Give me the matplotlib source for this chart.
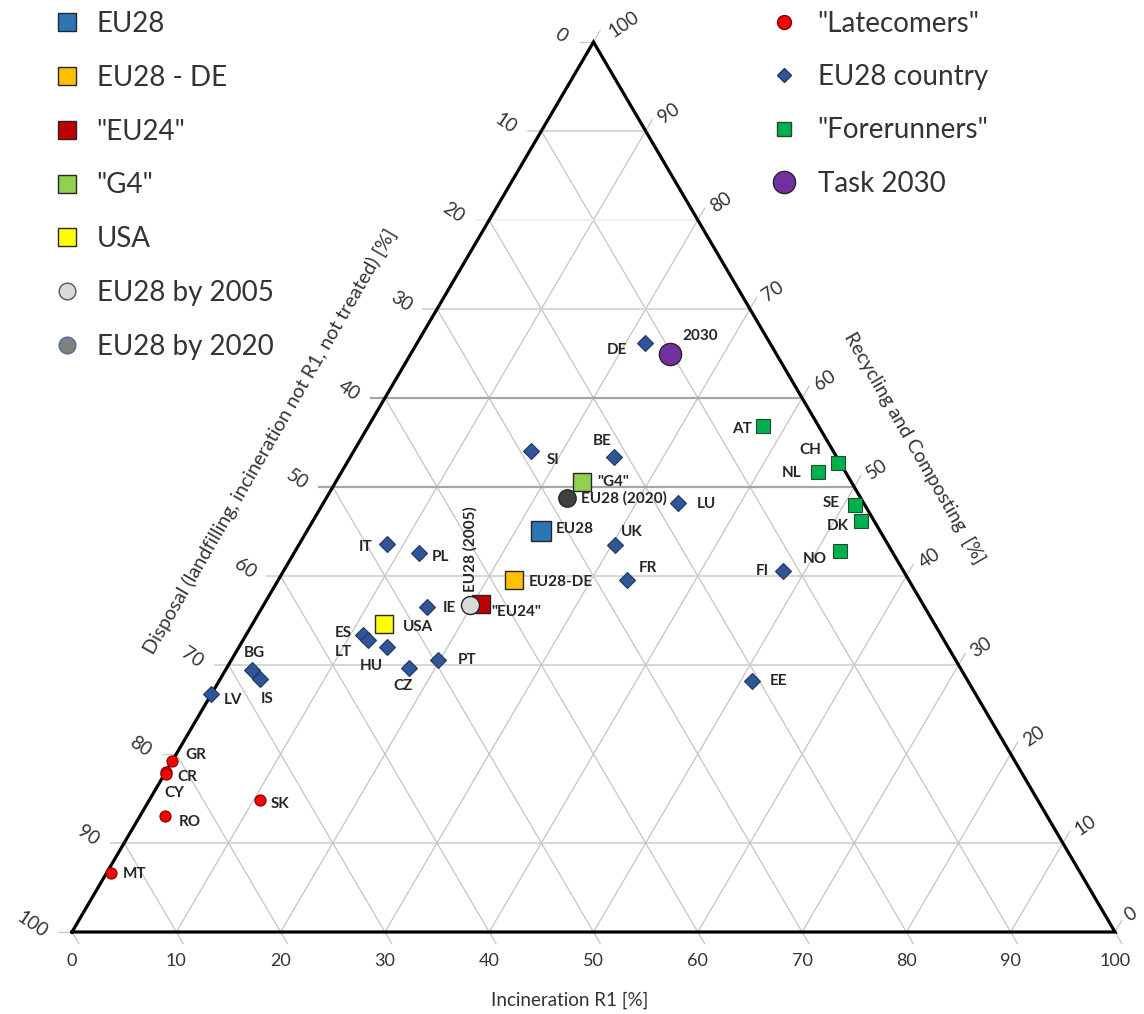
import numpy as np
import matplotlib
matplotlib.use('Agg')
import matplotlib.pyplot as plt
from matplotlib.lines import Line2D

plt.rcParams['font.family'] = ['Lato', 'DejaVu Sans']

# EU28 countries: incineration R1 [%] and recycling+composting [%]
countries = ['DE', 'SI', 'BE', 'LU', 'UK', 'FR', 'IE', 'IT', 'PL', 'ES', 'LT', 'HU',
             'CZ', 'PT', 'EE', 'FI', 'BG', 'IS', 'LV']
country_inc = [21.8, 17.0, 25.3, 34.0, 30.3, 33.4, 15.8, 8.4, 12.0, 11.2, 12.0, 14.2,
               17.5, 19.8, 51.1, 47.9, 2.6, 3.8, 0.0]
country_rec = [66.2, 54.0, 53.4, 48.2, 43.5, 39.6, 36.5, 43.6, 42.6, 33.4, 32.8, 32.0,
               29.7, 30.6, 28.2, 40.6, 29.4, 28.4, 26.7]

late = ['GR', 'CR', 'CY', 'RO', 'SK', 'MT']
late_inc = [0.0, 0.0, 0.2, 2.4, 10.6, 0.4]
late_rec = [19.2, 18.0, 17.7, 13.0, 14.8, 6.6]

fore = ['AT', 'CH', 'NL', 'SE', 'DK', 'NO']
fore_inc = [37.8, 47.1, 45.7, 51.1, 52.5, 52.2]
fore_rec = [56.9, 52.7, 51.7, 48.0, 46.2, 42.8]

agg = ['EU28', 'EU28-DE', '"EU24"', '"G4"', 'USA', 'EU28 (2005)', 'EU28 (2020)', '2030']
agg_inc = [22.4, 22.6, 20.8, 23.6, 12.6, 19.8, 23.1, 24.9]
agg_rec = [45.1, 39.6, 36.9, 50.6, 34.6, 36.7, 48.8, 64.9]

ticks = list(range(0, 101, 10))

H = np.sqrt(3) / 2


def tern(inc, rec):
    inc = np.asarray(inc, dtype=float)
    rec = np.asarray(rec, dtype=float)
    return inc + rec / 2, rec * H


fig = plt.figure(figsize=(11.44, 10.14), dpi=100)
ax = fig.add_axes([72 / 1144, 82 / 1014, 1043 / 1144, 890 / 1014])
ax.set_xlim(0, 100)
ax.set_ylim(0, 100 * H)
ax.axis('off')

# grid + small tick extensions
ext = 1.3
for v in ticks:
    # constant recycling -> horizontal, tick on the left
    x0, y0 = tern(0, v)
    x1, y1 = tern(100 - v, v)
    if 0 < v < 100 and v != 20:
        if v in (50, 60):
            c, lw = '#a6a6a6', 1.6
        elif v == 80:
            c, lw = '#ececec', 1.2
        else:
            c, lw = '#d6d6d6', 1.4
        ax.plot([x0 - ext, x1], [y0, y1], color=c, lw=lw, zorder=1, clip_on=False)
    else:
        ax.plot([x0 - ext, x0], [y0, y0], color='#c8c8c8', lw=1, zorder=1, clip_on=False)
    # constant incineration -> parallel to left edge, tick on the right
    x0, y0 = tern(v, 0)
    x1, y1 = tern(v, 100 - v)
    ax.plot([x0, x1 + 0.5 * ext], [y0, y1 + H * ext], color='#c4c4c4', lw=0.9,
            zorder=1, clip_on=False)
    # constant disposal -> parallel to right edge, tick at the bottom
    x0, y0 = tern(0, 100 - v)
    x1, y1 = tern(100 - v, 0)
    ax.plot([x0, x1 + 0.5 * ext], [y0, y1 - H * ext], color='#c4c4c4', lw=0.9,
            zorder=1, clip_on=False)

# triangle frame
tx, ty = tern([0, 100, 0, 0], [0, 0, 100, 0])
ax.plot(tx, ty, color='black', lw=2.3, zorder=3, clip_on=False, solid_joinstyle='miter')

# tick labels
narrow = ['Liberation Sans Narrow', 'Lato', 'DejaVu Sans']
for v in ticks:
    s = str(v)
    x, y = tern(v, 0)
    ax.annotate(s, (x, y), xytext=(0, -29), textcoords='offset pixels', ha='center',
                va='center', fontsize=13, family=narrow, color='#333333')
    x, y = tern(0, 100 - v)
    ax.annotate(s, (x, y), xytext=(-(29 + 3.5 * len(s)), 7), textcoords='offset pixels',
                ha='center', va='center', fontsize=13.5, rotation=-34, color='#333333')
    x, y = tern(100 - v, v)
    ax.annotate(s, (x, y), xytext=(9 + 7 * len(s), 18), textcoords='offset pixels',
                ha='center', va='center', fontsize=13.5, rotation=34, color='#333333')

fig.text(570 / 1144, 1 - 1000 / 1014, 'Incineration R1 [%]', ha='center', va='center',
         fontsize=13.5, family=narrow, color='#333333')
fig.text(270 / 1144, 1 - 441 / 1014,
         'Disposal (landfilling, incineration not R1, not treated) [%]',
         ha='center', va='center', rotation=60, fontsize=14.2, color='#333333')
fig.text(914 / 1144, 1 - 448 / 1014, 'Recycling and Composting  [%]', ha='center',
         va='center', rotation=-60, fontsize=14, color='#333333')

edge = '#262626'

# markers
cx, cy = tern(country_inc, country_rec)
ax.plot(cx, cy, 'D', ms=8.6, mfc='#2F5597', mec='#1F3864', mew=0.8, ls='none', zorder=5)
lx, ly = tern(late_inc, late_rec)
ax.plot(lx, ly, 'o', ms=8, mfc='#FF0000', mec='#7F0000', mew=0.8, ls='none', zorder=5)
fx, fy = tern(fore_inc, fore_rec)
ax.plot(fx, fy, 's', ms=10.5, mfc='#00B050', mec='#1E4D2B', mew=0.8, ls='none', zorder=5)

agg_style = {
    'EU28': ('s', 14, '#2E75B6', 6),
    'EU28-DE': ('s', 13, '#FFC000', 6),
    '"EU24"': ('s', 13, '#C00000', 6),
    '"G4"': ('s', 13, '#92D050', 6),
    'USA': ('s', 13, '#FFFF00', 6),
    'EU28 (2005)': ('o', 13, '#D9D9D9', 7),
    'EU28 (2020)': ('o', 12.5, '#404040', 7),
    '2030': ('o', 16, '#7030A0', 7),
}
ax_, ay_ = tern(agg_inc, agg_rec)
for name, x, y in zip(agg, ax_, ay_):
    m, ms, c, z = agg_style[name]
    ax.plot([x], [y], m, ms=ms, mfc=c, mec=edge, mew=1, ls='none', zorder=z)

# label offsets (pixels, right / down)
offsets = {
    'DE': (-28, 7), 'SI': (22, 9), 'BE': (-12, -16), 'LU': (28, 1), 'UK': (17, -13),
    'FR': (21, -12), 'IE': (22, 1), 'IT': (-21, 3), 'PL': (21, 4), 'ES': (-20, -2),
    'LT': (-25, 12), 'HU': (-16, 19), 'CZ': (-6, 18), 'PT': (29, 0), 'EE': (26, 0),
    'FI': (-21, 0), 'BG': (2, -17), 'IS': (7, 20), 'LV': (22, 6),
    'GR': (24, -6), 'CR': (21, 5), 'CY': (8, 19), 'RO': (25, 6), 'SK': (20, 4),
    'MT': (24, 1),
    'AT': (-21, 3), 'CH': (-28, -13), 'NL': (-27, 1), 'SE': (-24, -2), 'DK': (-23, 5),
    'NO': (-25, 8),
    'EU28': (34, -2), 'EU28-DE': (47, 2), '"EU24"': (35, 8), '"G4"': (31, 0),
    'USA': (34, 3), 'EU28 (2020)': (57, 1), '2030': (30, -18),
}
lab = dict(fontsize=11, fontweight='bold', color='#262626', ha='center', va='center',
           textcoords='offset pixels', zorder=8)
for names, xs, ys in [(countries, cx, cy), (late, lx, ly), (fore, fx, fy), (agg, ax_, ay_)]:
    for n, x, y in zip(names, xs, ys):
        if n == 'EU28 (2005)':
            ax.annotate(n, (x, y), xytext=(0, 13), textcoords='offset pixels',
                        rotation=90, ha='center', va='bottom', fontsize=11,
                        fontweight='bold', color='#262626', zorder=8)
            continue
        dx, dy = offsets[n]
        ax.annotate(n, (x, y), xytext=(dx, -dy), **lab)

# legends
def h(m, ms, fc, ec=edge):
    return Line2D([], [], marker=m, ms=ms, mfc=fc, mec=ec, mew=1, ls='none')


left_h = [h('s', 13, '#2E75B6'), h('s', 13, '#FFC000'), h('s', 13, '#C00000'),
          h('s', 13, '#92D050'), h('s', 13, '#FFFF00'), h('o', 12, '#D9D9D9', '#555555'),
          h('o', 12, '#808080', '#4F6A9A')]
left_l = ['EU28', 'EU28 - DE', '"EU24"', '"G4"', 'USA', 'EU28 by 2005', 'EU28 by 2020']
right_h = [h('o', 10, '#FF0000', '#7F0000'), h('D', 7.5, '#2F5597', '#1F3864'),
           h('s', 10.5, '#00B050', '#1E4D2B'), h('o', 16, '#7030A0')]
right_l = ['"Latecomers"', 'EU28 country', '"Forerunners"', 'Task 2030']

leg_kw = dict(frameon=False, fontsize=20, handlelength=1.0, borderpad=0, borderaxespad=0,
              loc='upper left', labelcolor='#333333', bbox_transform=fig.transFigure)
leg1 = fig.legend(left_h, left_l, bbox_to_anchor=(53 / 1144, 1 - 11 / 1014),
                  handletextpad=0.57, labelspacing=1.0, **leg_kw)
leg2 = fig.legend(right_h, right_l, bbox_to_anchor=(770 / 1144, 1 - 11 / 1014),
                  handletextpad=0.71, labelspacing=0.98, **leg_kw)

fig.savefig('out.png', dpi=100)
